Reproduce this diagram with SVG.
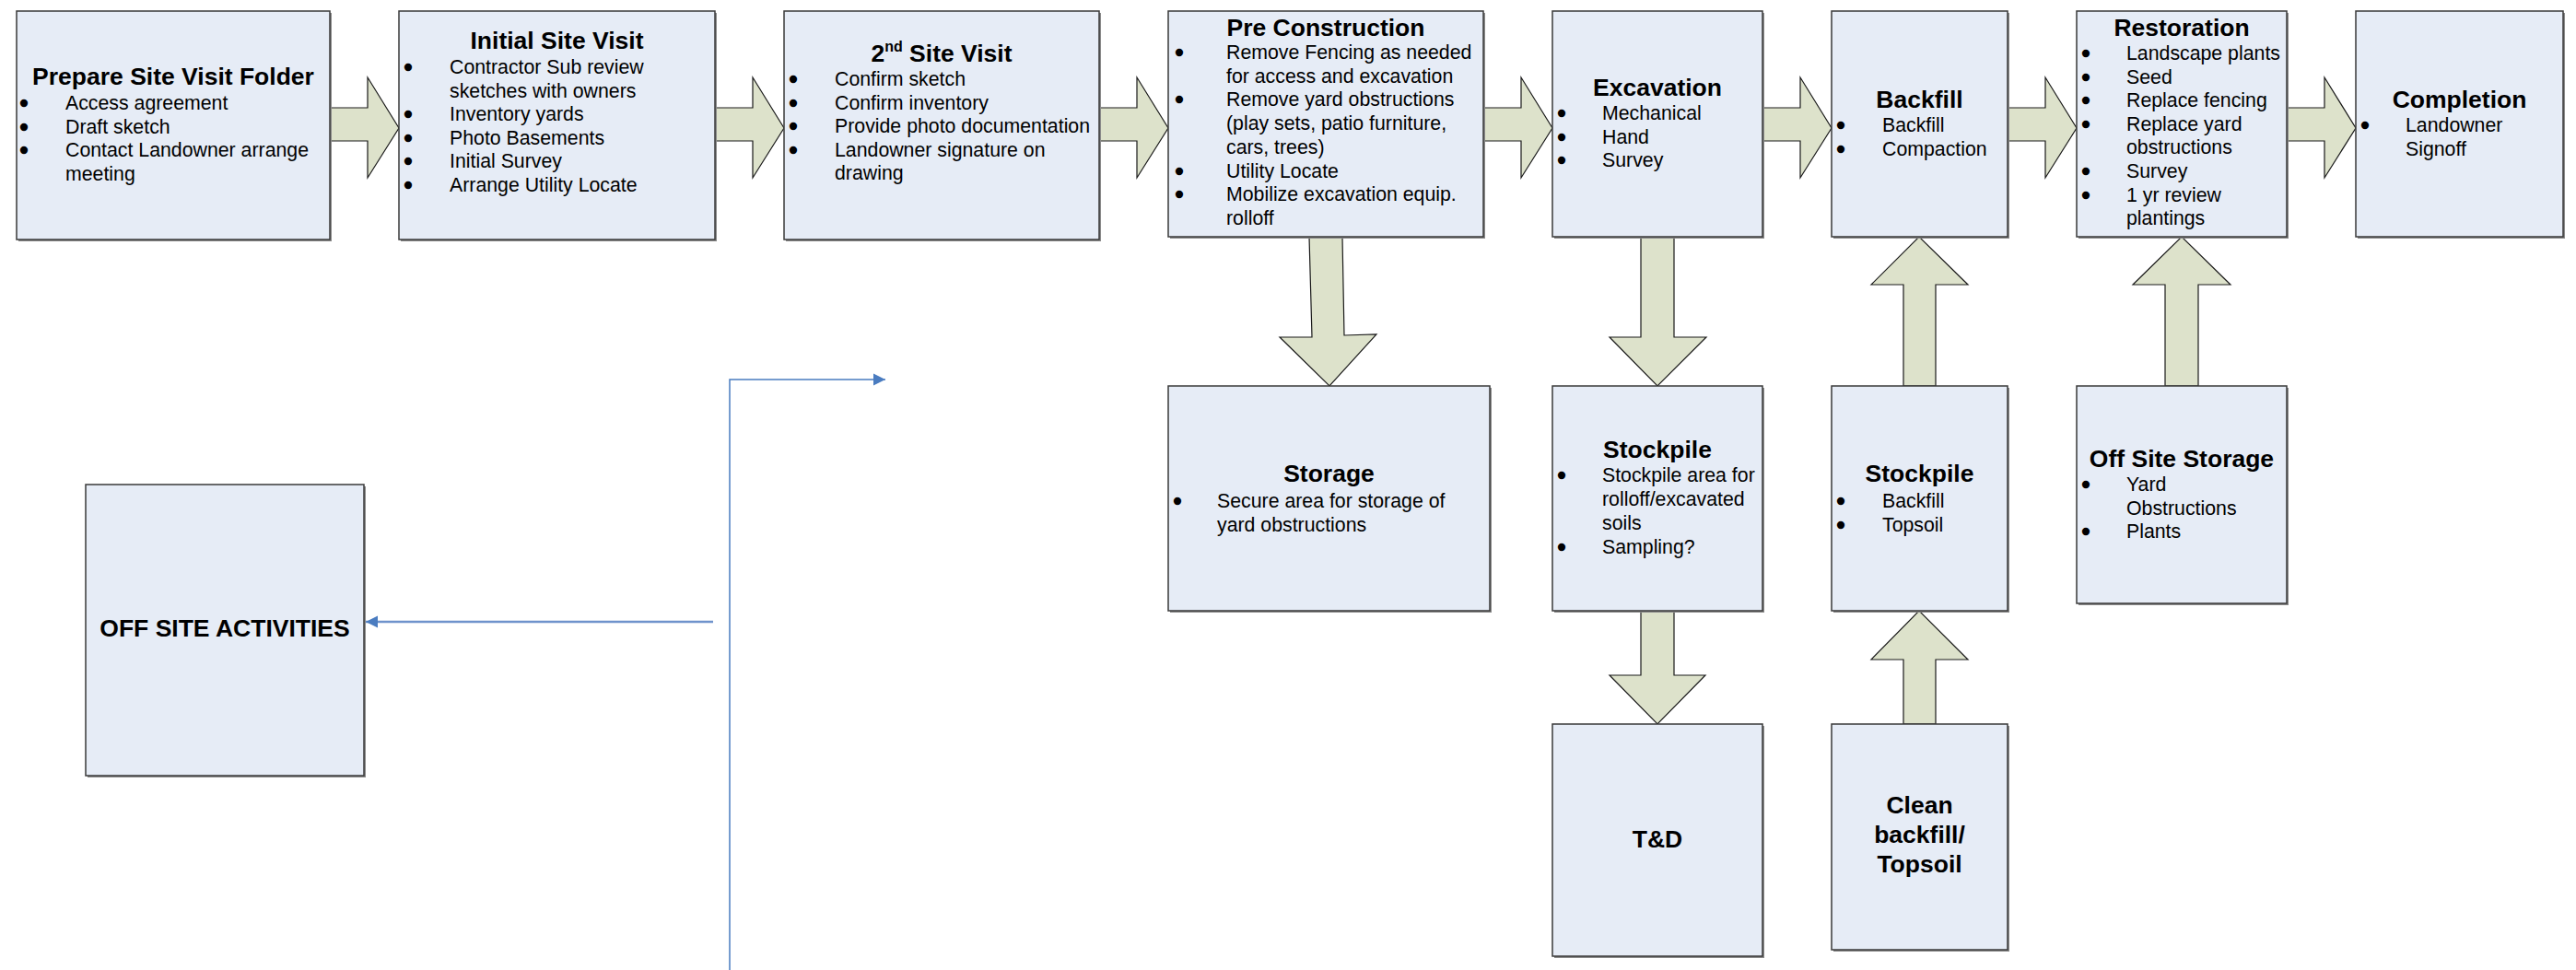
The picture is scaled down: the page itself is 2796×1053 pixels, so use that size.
<svg xmlns="http://www.w3.org/2000/svg" width="2796" height="1053" viewBox="0 0 2796 1053">
<style>
  .box{fill:#E6ECF6;stroke:#3a3a3a;stroke-width:1.5}
  .sh{fill:#8a8a8a}
  .t{font-family:"Liberation Sans",Arial,sans-serif;font-weight:bold;font-size:26.5px;fill:#000;text-anchor:middle}
  .b{font-family:"Liberation Sans",Arial,sans-serif;font-size:21.3px;fill:#000}
  .d{font-family:"Liberation Sans",Arial,sans-serif;font-size:21.3px;fill:#000;stroke:#000;stroke-width:2.4;text-anchor:middle}
  .ba{fill:#DDE2CB;stroke:#1a1a1a;stroke-width:1.2;stroke-linejoin:miter}
  .bl{fill:none;stroke:#4A7CC0;stroke-width:1.5}
  .bl2{fill:none;stroke:#6F93CC;stroke-width:2.5}
</style>
<defs>
  <marker id="ah" markerUnits="userSpaceOnUse" markerWidth="14" markerHeight="14" refX="13" refY="7" orient="auto">
    <path d="M0,0.5 L13,7 L0,13.5 Z" fill="#4A7CC0"/>
  </marker>
</defs>
<rect width="2796" height="1053" fill="#FFFFFF"/>

<g id="connectors">
  <polygon class="ba" points="358,117 399,117 399,84 433,139 399,193 399,153 358,153"/>
  <polygon class="ba" points="776,117 817,117 817,84 851,139 817,193 817,153 776,153"/>
  <polygon class="ba" points="1193,117 1234,117 1234,84 1268,139 1234,193 1234,153 1193,153"/>
  <polygon class="ba" points="1610,117 1651,117 1651,84 1685,139 1651,193 1651,153 1610,153"/>
  <polygon class="ba" points="1913,117 1954,117 1954,84 1988,139 1954,193 1954,153 1913,153"/>
  <polygon class="ba" points="2179,117 2220,117 2220,84 2254,139 2220,193 2220,153 2179,153"/>
  <polygon class="ba" points="2482,117 2523,117 2523,84 2557,139 2523,193 2523,153 2482,153"/>
  <polygon class="ba" points="1421,257 1457,257 1459,364 1494,363 1443,419 1389,366 1424,366"/>
  <polygon class="ba" points="1781,257 1817,257 1817,366 1852,366 1799,419 1747,366 1781,366"/>
  <polygon class="ba" points="1781,663 1817,663 1817,733 1851,733 1799,786 1747,733 1781,733"/>
  <polygon class="ba" points="2066,786 2101,786 2101,716 2136,716 2083,663 2031,716 2066,716"/>
  <polygon class="ba" points="2066,419 2101,419 2101,309 2136,309 2083,257 2031,309 2066,309"/>
  <polygon class="ba" points="2350,419 2386,419 2386,309 2421,309 2368,257 2315,309 2350,309"/>
  <path class="bl" d="M792,1053 V412 H961" marker-end="url(#ah)"/>
  <path class="bl2" d="M774,675 H397" marker-end="url(#ah)"/>
</g>

<g id="prepare">
  <rect class="sh" x="20" y="14" width="340" height="248"/>
  <rect class="box" x="18" y="12" width="340" height="248"/>
  <text class="t" x="188" y="92">Prepare Site Visit Folder</text>
  <text class="d" x="26" y="119">•</text><text class="b" x="71" y="119">Access agreement</text>
  <text class="d" x="26" y="144.5">•</text><text class="b" x="71" y="144.5">Draft sketch</text>
  <text class="d" x="26" y="170">•</text><text class="b" x="71" y="170">Contact Landowner arrange</text>
  <text class="b" x="71" y="195.5">meeting</text>
</g>

<g id="initial">
  <rect class="sh" x="435" y="14" width="343" height="248"/>
  <rect class="box" x="433" y="12" width="343" height="248"/>
  <text class="t" x="604.5" y="53">Initial Site Visit</text>
  <text class="d" x="443" y="80">•</text><text class="b" x="488" y="80">Contractor Sub review</text>
  <text class="b" x="488" y="105.6">sketches with owners</text>
  <text class="d" x="443" y="131.2">•</text><text class="b" x="488" y="131.2">Inventory yards</text>
  <text class="d" x="443" y="156.8">•</text><text class="b" x="488" y="156.8">Photo Basements</text>
  <text class="d" x="443" y="182.4">•</text><text class="b" x="488" y="182.4">Initial Survey</text>
  <text class="d" x="443" y="208">•</text><text class="b" x="488" y="208">Arrange Utility Locate</text>
</g>

<g id="second">
  <rect class="sh" x="853" y="14" width="342" height="248"/>
  <rect class="box" x="851" y="12" width="342" height="248"/>
  <text class="t" x="1022" y="67">2<tspan font-size="16" dy="-11">nd</tspan><tspan dy="11"> Site Visit</tspan></text>
  <text class="d" x="861" y="93">•</text><text class="b" x="906" y="93">Confirm sketch</text>
  <text class="d" x="861" y="118.6">•</text><text class="b" x="906" y="118.6">Confirm inventory</text>
  <text class="d" x="861" y="144.2">•</text><text class="b" x="906" y="144.2">Provide photo documentation</text>
  <text class="d" x="861" y="169.8">•</text><text class="b" x="906" y="169.8">Landowner signature on</text>
  <text class="b" x="906" y="195.4">drawing</text>
</g>

<g id="preconstruction">
  <rect class="sh" x="1270" y="14" width="342" height="245"/>
  <rect class="box" x="1268" y="12" width="342" height="245"/>
  <text class="t" x="1439" y="39">Pre Construction</text>
  <text class="d" x="1280" y="64">•</text><text class="b" x="1331" y="64">Remove Fencing as needed</text>
  <text class="b" x="1331" y="89.7">for access and excavation</text>
  <text class="d" x="1280" y="115.4">•</text><text class="b" x="1331" y="115.4">Remove yard obstructions</text>
  <text class="b" x="1331" y="141.1">(play sets, patio furniture,</text>
  <text class="b" x="1331" y="166.8">cars, trees)</text>
  <text class="d" x="1280" y="192.5">•</text><text class="b" x="1331" y="192.5">Utility Locate</text>
  <text class="d" x="1280" y="218.2">•</text><text class="b" x="1331" y="218.2">Mobilize excavation equip.</text>
  <text class="b" x="1331" y="243.9">rolloff</text>
</g>

<g id="excavation">
  <rect class="sh" x="1687" y="14" width="228" height="245"/>
  <rect class="box" x="1685" y="12" width="228" height="245"/>
  <text class="t" x="1799" y="104">Excavation</text>
  <text class="d" x="1695" y="130">•</text><text class="b" x="1739" y="130">Mechanical</text>
  <text class="d" x="1695" y="155.6">•</text><text class="b" x="1739" y="155.6">Hand</text>
  <text class="d" x="1695" y="181.2">•</text><text class="b" x="1739" y="181.2">Survey</text>
</g>

<g id="backfill">
  <rect class="sh" x="1990" y="14" width="191" height="245"/>
  <rect class="box" x="1988" y="12" width="191" height="245"/>
  <text class="t" x="2083.5" y="117">Backfill</text>
  <text class="d" x="1998" y="143">•</text><text class="b" x="2043" y="143">Backfill</text>
  <text class="d" x="1998" y="168.6">•</text><text class="b" x="2043" y="168.6">Compaction</text>
</g>

<g id="restoration">
  <rect class="sh" x="2256" y="14" width="228" height="245"/>
  <rect class="box" x="2254" y="12" width="228" height="245"/>
  <text class="t" x="2368" y="39">Restoration</text>
  <text class="d" x="2264" y="65">•</text><text class="b" x="2308" y="65">Landscape plants</text>
  <text class="d" x="2264" y="90.6">•</text><text class="b" x="2308" y="90.6">Seed</text>
  <text class="d" x="2264" y="116.2">•</text><text class="b" x="2308" y="116.2">Replace fencing</text>
  <text class="d" x="2264" y="141.8">•</text><text class="b" x="2308" y="141.8">Replace yard</text>
  <text class="b" x="2308" y="167.4">obstructions</text>
  <text class="d" x="2264" y="193">•</text><text class="b" x="2308" y="193">Survey</text>
  <text class="d" x="2264" y="218.6">•</text><text class="b" x="2308" y="218.6">1 yr review</text>
  <text class="b" x="2308" y="244.2">plantings</text>
</g>

<g id="completion">
  <rect class="sh" x="2559" y="14" width="225" height="245"/>
  <rect class="box" x="2557" y="12" width="225" height="245"/>
  <text class="t" x="2669.5" y="117">Completion</text>
  <text class="d" x="2567" y="143">•</text><text class="b" x="2611" y="143">Landowner</text>
  <text class="b" x="2611" y="168.6">Signoff</text>
</g>

<g id="storage">
  <rect class="sh" x="1270" y="421" width="349" height="244"/>
  <rect class="box" x="1268" y="419" width="349" height="244"/>
  <text class="t" x="1442.5" y="523">Storage</text>
  <text class="d" x="1278" y="551">•</text><text class="b" x="1321" y="551">Secure area for storage of</text>
  <text class="b" x="1321" y="576.6">yard obstructions</text>
</g>

<g id="stockpile1">
  <rect class="sh" x="1687" y="421" width="228" height="244"/>
  <rect class="box" x="1685" y="419" width="228" height="244"/>
  <text class="t" x="1799" y="497">Stockpile</text>
  <text class="d" x="1695" y="523">•</text><text class="b" x="1739" y="523">Stockpile area for</text>
  <text class="b" x="1739" y="549">rolloff/excavated</text>
  <text class="b" x="1739" y="575">soils</text>
  <text class="d" x="1695" y="600.5">•</text><text class="b" x="1739" y="600.5">Sampling?</text>
</g>

<g id="stockpile2">
  <rect class="sh" x="1990" y="421" width="191" height="244"/>
  <rect class="box" x="1988" y="419" width="191" height="244"/>
  <text class="t" x="2083.5" y="523">Stockpile</text>
  <text class="d" x="1998" y="551">•</text><text class="b" x="2043" y="551">Backfill</text>
  <text class="d" x="1998" y="576.6">•</text><text class="b" x="2043" y="576.6">Topsoil</text>
</g>

<g id="offsitestorage">
  <rect class="sh" x="2256" y="421" width="228" height="236"/>
  <rect class="box" x="2254" y="419" width="228" height="236"/>
  <text class="t" x="2368" y="507">Off Site Storage</text>
  <text class="d" x="2264" y="533">•</text><text class="b" x="2308" y="533">Yard</text>
  <text class="b" x="2308" y="558.6">Obstructions</text>
  <text class="d" x="2264" y="584.2">•</text><text class="b" x="2308" y="584.2">Plants</text>
</g>

<g id="td">
  <rect class="sh" x="1687" y="788" width="228" height="252"/>
  <rect class="box" x="1685" y="786" width="228" height="252"/>
  <text class="t" x="1799" y="920">T&amp;D</text>
</g>

<g id="cleanbackfill">
  <rect class="sh" x="1990" y="788" width="191" height="245"/>
  <rect class="box" x="1988" y="786" width="191" height="245"/>
  <text class="t" x="2083.5" y="883">Clean</text>
  <text class="t" x="2083.5" y="915">backfill/</text>
  <text class="t" x="2083.5" y="947">Topsoil</text>
</g>

<g id="offsiteactivities">
  <rect class="sh" x="95" y="528" width="302" height="316"/>
  <rect class="box" x="93" y="526" width="302" height="316"/>
  <text class="t" x="244" y="691">OFF SITE ACTIVITIES</text>
</g>
</svg>
